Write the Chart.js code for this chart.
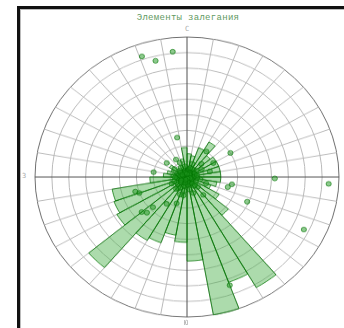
<!DOCTYPE html>
<html lang="ru">
<head>
<meta charset="UTF-8">
<title>Элементы залегания</title>
<script src="https://cdn.jsdelivr.net/npm/chart.js@4.4.4/dist/chart.umd.min.js"></script>
<style>
    body { margin: 0; background: #fff; width: 344px; height: 328px; overflow: hidden; position: relative; }
    #frame { position: absolute; left: 17px; top: 6px; width: 340px; height: 330px;
             border-left: 3px solid #111; border-top: 3px solid #111; box-shadow: inset 1px 1px 0 #bbb; }
    #rose { position: absolute; left: 32px; top: 22px; width: 310px; height: 310px;
            transform: scaleY(0.921); transform-origin: 155px 155px; }
    .lbl { position: absolute; font-family: "DejaVu Sans Mono", monospace; color: #aaa; font-size: 7px; }
    #title { position: absolute; left: 0; width: 376px; top: 13px; text-align: center; letter-spacing: 0.3px;
             font-family: "Liberation Mono", "DejaVu Sans Mono", monospace; font-size: 9px; color: #5f9a5f; }
</style>
</head>
<body>
<div id="frame"></div>
<div id="title">Элементы залегания</div>
<canvas id="rose" width="310" height="310"></canvas>
<div class="lbl" style="left:185px;top:25px">С</div>
<div class="lbl" style="left:184px;top:319px">Ю</div>
<div class="lbl" style="left:22px;top:172px">З</div>

<script>
// azimuth bins, 10 degrees each, clockwise from north
const bins = ['0-10','10-20','20-30','30-40','40-50','50-60','60-70','70-80','80-90',
              '90-100','100-110','110-120','120-130','130-140','140-150','150-160','160-170','170-180',
              '180-190','190-200','200-210','210-220','220-230','230-240','240-250','250-260','260-270',
              '270-280','280-290','290-300','300-310','310-320','320-330','330-340','340-350','350-360'];
// rose lengths in dip-degree units of the net (0..90)
const roseValues = [15, 14, 20, 26, 18, 20, 20, 20, 20,
                    20, 18, 15, 22, 32, 82, 72, 90, 54,
                    42, 38, 45, 47, 76, 48, 46, 45, 22,
                    14, 12, 10, 12, 6, 5, 8, 12, 19];

// poles: azimuth (deg) and distance from centre (deg)
const poleAzimuth = [341, 346, 354, 93, 91, 100, 114, 116, 160, 59, 347, 226, 226, 215, 253, 307, 279, 105,
                     230, 250, 35, 60, 75, 200, 190, 140,
                     10, 40, 80, 120, 150, 170, 200, 230, 260, 290, 320, 350, 20, 100, 135, 185, 215, 245,
                     275, 305, 335, 0, 90, 180, 270, 45, 160, 200, 330, 60, 110,
                     5, 25, 55, 70, 95, 130, 145, 165, 195, 210, 225, 240, 255, 265, 285, 300, 315, 340,
                     15, 50, 85, 115, 155, 175, 205, 235, 250, 280, 310, 345, 30, 125, 190, 220,
                     8, 33, 62, 88, 118, 143, 172, 198, 228, 252, 282, 308, 338,
                     18, 48, 78, 108, 138, 168, 208, 238, 268, 298, 328, 358];
const poleDip = [82, 77, 81, 84, 52, 27, 39, 77, 74, 30, 26, 33, 28, 21, 32, 15, 20, 25,
                 35, 30, 20, 18, 14, 18, 12, 15,
                 5, 6, 4, 6, 5, 8, 6, 7, 5, 6, 4, 7, 9, 8, 9, 4, 9, 10,
                 8, 9, 10, 2, 2, 2, 3, 12, 11, 12, 13, 10, 12,
                 3, 4, 7, 5, 6, 3, 7, 4, 6, 8, 5, 7, 4, 6, 5, 3, 6, 4,
                 1, 2, 1, 3, 2, 5, 3, 2, 8, 1, 2, 3, 6, 1, 9, 10,
                 4, 3, 5, 4, 3, 5, 3, 4, 5, 3, 4, 5, 3,
                 6, 2, 6, 2, 7, 1, 2, 4, 7, 3, 7, 2];

const polePlugin = {
    id: 'poles',
    afterDatasetsDraw(chart) {
        const r = chart.scales.r;
        const ctx = chart.ctx;
        ctx.save();
        ctx.fillStyle = 'rgba(30,150,30,0.5)';
        ctx.strokeStyle = 'rgba(0,115,0,0.6)';
        ctx.lineWidth = 1;
        poleAzimuth.forEach((az, i) => {
            const p = r.getPointPosition(0, r.getDistanceFromCenterForValue(poleDip[i]), az * Math.PI / 180);
            ctx.beginPath();
            ctx.arc(p.x, p.y, 2.6, 0, Math.PI * 2);
            ctx.fill();
            ctx.stroke();
        });
        ctx.restore();
    }
};

new Chart(document.getElementById('rose'), {
    type: 'polarArea',
    data: {
        labels: bins,
        datasets: [{
            data: roseValues,
            backgroundColor: 'rgba(70,175,70,0.45)',
            borderColor: 'rgba(0,115,0,0.75)',
            borderWidth: 1
        }]
    },
    options: {
        responsive: false,
        animation: false,
        layout: { padding: 3 },
        plugins: { legend: { display: false }, tooltip: { enabled: false } },
        scales: {
            r: {
                min: 0,
                max: 90,
                startAngle: 0,
                ticks: { display: false, stepSize: 10 },
                pointLabels: { display: false },
                grid: { circular: true, color: ctx => ctx.index === 9 ? '#6f6f6f' : '#bababa' },
                angleLines: { display: true, color: ctx => ctx.index % 9 === 0 ? '#505050' : '#bababa' }
            }
        }
    },
    plugins: [polePlugin]
});
</script>
</body>
</html>
